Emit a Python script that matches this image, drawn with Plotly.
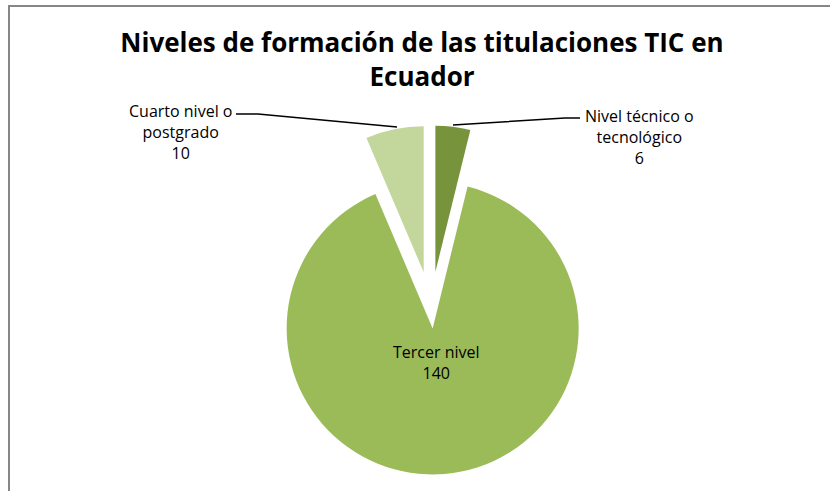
import plotly.graph_objects as go

# datos
niveles = ['Nivel técnico o<br>tecnológico', 'Tercer nivel', 'Cuarto nivel o<br>postgrado']
titulaciones = [6, 140, 10]
colores = ['#77933C', '#9BBB59', '#C3D69B']

W, H = 830, 491
fuente = 'Open Sans'

fig = go.Figure(go.Pie(
    labels=niveles,
    values=titulaciones,
    sort=False,
    direction='clockwise',
    rotation=0,
    pull=[0.25, 0.14, 0.25],
    marker=dict(colors=colores, line=dict(width=0)),
    textinfo='none',
    hoverinfo='skip',
    showlegend=False,
    domain=dict(x=[248.5 / W, 613.5 / W], y=[0.001, 1 - 125.5 / H]),
))

px = lambda x: x / W
py = lambda y: 1 - y / H

# etiquetas (posicion en pixeles: x, y)
pos_etiquetas = [(639, 137), (436, 362), (180, 132)]
for nivel, valor, (ex, ey) in zip(niveles, titulaciones, pos_etiquetas):
    fig.add_annotation(x=px(ex), y=py(ey), xref='paper', yref='paper',
                       xanchor='center', yanchor='middle',
                       text=f'{nivel}<br>{valor}', showarrow=False,
                       font=dict(family=fuente, size=16, color='#000'))

# lineas guia
fig.add_shape(type='path', xref='paper', yref='paper',
              path=f'M {px(236)} {py(114)} L {px(258)} {py(114)} L {px(397)} {py(127)}',
              line=dict(color='#000', width=1.5))
fig.add_shape(type='path', xref='paper', yref='paper',
              path=f'M {px(453)} {py(125)} L {px(565)} {py(118)} L {px(580)} {py(118)}',
              line=dict(color='#000', width=1.5))

# marco del grafico
fig.add_shape(type='path', xref='paper', yref='paper',
              path=f'M {px(9)} {py(495)} L {px(9)} {py(6)} L {px(835)} {py(6)}',
              line=dict(color='#878787', width=2))

fig.update_layout(
    width=W, height=H,
    margin=dict(l=0, r=0, t=0, b=0),
    paper_bgcolor='white',
    title=dict(text='<b>Niveles de formación de las titulaciones TIC en<br>Ecuador</b>',
               x=px(422), xanchor='center', y=py(52), yanchor='middle',
               font=dict(family=fuente, size=26, color='#000')),
)

fig.write_html('out.html', config={'displayModeBar': False},
               post_script="document.body.style.margin='0';")
